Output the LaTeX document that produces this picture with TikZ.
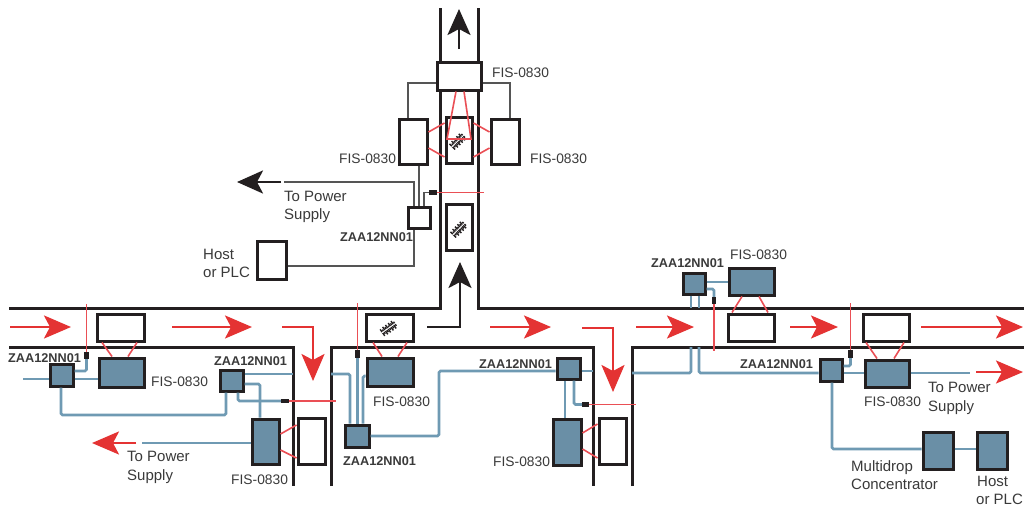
\documentclass[tikz,border=0pt]{standalone}
\usepackage{fontspec}
\setmainfont{Liberation Sans}
\usetikzlibrary{arrows.meta}
\definecolor{ink}{HTML}{231F20}
\definecolor{txt}{HTML}{3A3A3A}
\definecolor{blfill}{HTML}{6A8FA6}
\definecolor{blline}{HTML}{6F9AB3}
\definecolor{redA}{HTML}{E43333}
\definecolor{redB}{HTML}{EA4F55}
\definecolor{grayL}{HTML}{555555}
\tikzset{
  wall/.style={draw=ink,line width=3pt,line cap=butt,line join=miter},
  wbox/.style={draw=ink,fill=white,line width=3pt,inner sep=0pt},
  bbox/.style={draw=ink,fill=blfill,line width=3pt,inner sep=0pt},
  sens/.style={fill=ink,draw=none,inner sep=0pt},
  bl/.style={draw=blline,line width=2.7pt,rounded corners=1.5pt},
  gl/.style={draw=grayL,line width=1.4pt},
  rl/.style={draw=redB,line width=1.6pt},
  rbeam/.style={draw=redB,line width=1.6pt},
  rarr/.style={draw=redA,line width=2.5pt,line join=miter,-{Stealth[length=27pt,width=23pt,inset=6pt]}},
  karr/.style={draw=ink,line width=2.8pt,line join=miter,-{Stealth[length=26pt,width=23pt,inset=6pt]}},
  lab/.style={anchor=base west,inner sep=0pt,text=txt,font=\fontsize{13.8}{16}\selectfont},
  wlab/.style={anchor=base west,inner sep=0pt,text=txt,font=\fontsize{15}{18}\selectfont},
  zlab/.style={anchor=base west,inner sep=0pt,text=txt,font=\fontsize{12.7}{15}\selectfont\bfseries},
}
\newcommand{\bx}[6]{\node[#2,minimum width={(#5-#3)*1pt},minimum height={(#6-#4)*1pt}] (#1) at ({(#3+#5)/2},{(#4+#6)/2}) {};}
\newcommand{\lb}[5][lab]{\node[#1] (#2) at (#3,#4+5) {#5};}
\newcommand{\glyph}[3]{\begin{scope}[shift={(#1,#2)},rotate=#3]
  \foreach \p/\h in {-8/4,-6.3/2.5,-4.6/4.5,-2.9/3,-1.2/4.5,0.5/2.5,2.2/4.5,3.9/3,5.6/4.5,7.3/2.5}{
    \fill[ink] (\p-0.7,-\h) rectangle (\p+0.7,\h);}
  \fill[white] (-9,-0.6) rectangle (9,0.3);
\end{scope}}
\newcommand{\rarrow}[4]{\coordinate (#1s) at (#2,#4);\coordinate (#1e) at (#3,#4);\draw[rarr] (#1s) -- (#1e);}
\begin{document}
\begin{tikzpicture}[x=1pt,y=-1pt]
\useasboundingbox (0,0) rectangle (1024,506);
\fill[white] (0,0) rectangle (1024,506);
% roadway walls
\draw[wall] (9,308) -- (440,308) -- (440,8);
\draw[wall] (478,8) -- (478,308) -- (1024,308);
\draw[wall] (9,347) -- (293,347) -- (293,486);
\draw[wall] (331,486) -- (331,347) -- (593,347) -- (593,486);
\draw[wall] (632,486) -- (632,347) -- (1024,347);
% nodes: north branch
\bx{nTop}{wbox}{437}{62}{481}{90}
\bx{nLeft}{wbox}{399}{119}{427}{164}
\bx{nRight}{wbox}{491}{119}{519}{164}
\bx{tagA}{wbox}{446}{117}{472}{163}
\bx{tagB}{wbox}{446}{204}{472}{250}
\bx{zN}{wbox}{408}{207}{430}{228}
\bx{hostN}{wbox}{257}{241}{286}{279}
\bx{sN}{sens}{429}{190}{437}{195}
\glyph{458}{141}{45}
\glyph{459}{229}{45}
% nodes: west
\bx{zW}{bbox}{50}{364}{73}{386}
\bx{fW}{bbox}{99}{358}{144}{387}
\bx{tW}{wbox}{97}{314}{144}{341}
\bx{sW}{sens}{84}{352}{89}{359}
\bx{zX}{bbox}{220}{370}{243}{391}
\bx{fX}{bbox}{252}{419}{279}{464}
\bx{tX}{wbox}{298}{418}{325}{464}
\bx{sX}{sens}{281}{399}{289}{403}
% nodes: centre
\bx{tC}{wbox}{366}{314}{413}{341}
\glyph{389}{328}{35}
\bx{fC}{bbox}{367}{358}{413}{386}
\bx{sC}{sens}{355}{350}{360}{358}
\bx{zC}{bbox}{345}{425}{369}{447}
\bx{zD}{bbox}{557}{358}{580}{379}
\bx{fD}{bbox}{553}{419}{581}{465}
\bx{tD}{wbox}{599}{418}{626}{464}
\bx{sD}{sens}{582}{402}{589}{407}
% nodes: east
\bx{zE}{bbox}{683}{273}{705}{294}
\bx{fE}{bbox}{729}{268}{774}{295}
\bx{tE}{wbox}{728}{314}{774}{341}
\bx{sE}{sens}{712}{297}{716}{304}
\bx{zF}{bbox}{820}{359}{842}{381}
\bx{fF}{bbox}{865}{360}{909}{387}
\bx{tF}{wbox}{863}{314}{909}{341}
\bx{sF}{sens}{848}{350}{853}{358}
\bx{mux}{bbox}{923}{432}{953}{469}
\bx{hostE}{bbox}{977}{432}{1007}{469}
% free ends
\coordinate (wIn) at (23,379);
\coordinate (wPwr) at (142,443);
\coordinate (ePwr) at (970,373);
\coordinate (nPwr) at (284,182);
\coordinate (bN) at (484,192.5);
\coordinate (bW) at (86.5,304);
\coordinate (bX) at (336,401);
\coordinate (bC) at (357.5,303);
\coordinate (bD) at (636,404.5);
\coordinate (bE) at (714,351);
\coordinate (bF) at (850.5,303);
% grey wiring, north
\draw[gl] (nTop.west |- 0,83) -| (nLeft.north -| 408,0);
\draw[gl] (nTop.east |- 0,83) -| (nRight.north -| 510,0);
\draw[gl] (nLeft.south -| 419,0) -- (zN.north -| 419,0);
\draw[gl] (nPwr) -| (zN.north -| 414,0);
\draw[gl] (hostN.east |- 0,266) -| (zN.south -| 414,0);
\draw[gl] (zN.north -| 424,0) |- (sN.west);
% blue wiring, west
\draw[bl] (wIn) -- (zW.west |- wIn);
\draw[bl] (zW.east |- 0,379) -- (fW.west |- 0,379);
\draw[bl] (sW.south) |- (zW.east |- 0,371);
\draw[bl] (zW.south -| 61,0) |- (226,415) -- (zX.south -| 226,0);
\draw[bl] (zX.east |- 0,374) -- (293,374);
\draw[bl] (zX.east |- 0,384) -| (fX.north -| 260,0);
\draw[bl] (zX.south -| 238,0) |- (sX.west);
\draw[bl] (wPwr) -- (fX.west |- wPwr);
% blue wiring, centre
\draw[bl] (331,374) -| (zC.north -| 350,0);
\draw[bl] (sC.south) -- (zC.north -| sC.south);
\draw[bl] (zC.north -| 363,0) |- (fC.west |- 0,376);
\draw[bl] (zC.east |- 0,436) -| (439,371) -- (zD.west |- 0,371);
\draw[bl] (zD.east |- 0,371) -- (593,371);
\draw[bl] (zD.south -| 565,0) -- (fD.north -| 565,0);
\draw[bl] (zD.south -| 574,0) |- (sD.west);
% blue wiring, east
\draw[bl] (632,373) -| (691,347);
\draw[bl] (zE.south -| 691,0) -- (691,308);
\draw[bl] (zE.south -| 699,0) -- (699,308);
\draw[bl] (699,347) |- (zF.west |- 0,373);
\draw[bl] (zE.east |- 0,282) -- (fE.west |- 0,282);
\draw[bl] (zE.east |- 0,289) -| (sE.north);
\draw[bl] (sF.south) |- (zF.east |- 0,366);
\draw[bl] (zF.east |- 0,373) -- (fF.west |- 0,373);
\draw[bl] (fF.east |- ePwr) -- (ePwr);
\draw[bl] (zF.south -| 832,0) |- (mux.west |- 0,449);
\draw[bl] (mux.east |- 0,449) -- (hostE.west |- 0,449);
% red reader beams
\draw[rl,line join=miter] (nTop.south -| 456,0) -- (447,139) -- (471,139) -- (nTop.south -| 464,0);
\draw[rl] (nLeft.east |- 0,132) -- (tagA.west |- 0,123);
\draw[rl] (nLeft.east |- 0,148) -- (tagA.west |- 0,157);
\draw[rl] (nRight.west |- 0,132) -- (tagA.east |- 0,123);
\draw[rl] (nRight.west |- 0,148) -- (tagA.east |- 0,157);
\draw[rl] (tW.south -| 102,0) -- (fW.north -| 112,0);
\draw[rl] (tW.south -| 137,0) -- (fW.north -| 128,0);
\draw[rl] (fX.east |- 0,434) -- (tX.west |- 0,425);
\draw[rl] (fX.east |- 0,450) -- (tX.west |- 0,458);
\draw[rl] (tC.south -| 373,0) -- (fC.north -| 382,0);
\draw[rl] (tC.south -| 407,0) -- (fC.north -| 398,0);
\draw[rl] (fD.east |- 0,433) -- (tD.west |- 0,424);
\draw[rl] (fD.east |- 0,449) -- (tD.west |- 0,458);
\draw[rl] (fE.south -| 742,0) -- (tE.north -| 732,0);
\draw[rl] (fE.south -| 759,0) -- (tE.north -| 768,0);
\draw[rl] (tF.south -| 866,0) -- (fF.north -| 877,0);
\draw[rl] (tF.south -| 904,0) -- (fF.north -| 894,0);
% red sensor beams
\draw[rbeam] (sN.east) -- (bN);
\draw[rbeam] (sW.north) -- (bW);
\draw[rbeam] (sX.east) -- (bX);
\draw[rbeam] (sC.north) -- (bC);
\draw[rbeam] (sD.east) -- (bD);
\draw[rbeam] (sE.south) -- (bE);
\draw[rbeam] (sF.north) -- (bF);
% red traffic arrows
\rarrow{a1}{10}{71}{327}
\rarrow{a2}{172}{252}{327}
\rarrow{a3}{490}{551}{327}
\rarrow{a4}{636}{694}{327}
\rarrow{a5}{790}{838}{327}
\rarrow{a6}{921}{1023}{327}
\rarrow{a7}{976}{1023}{372}
\rarrow{a8}{136}{92}{443}
\coordinate (b1s) at (282,327);\coordinate (b1e) at (313,381);
\draw[rarr] (b1s) -| (b1e);
\coordinate (b2s) at (582,328);\coordinate (b2e) at (613,392);
\draw[rarr] (b2s) -| (b2e);
% black arrows
\coordinate (k1s) at (459,49);\coordinate (k1e) at (459,9);
\draw[karr] (k1s) -- (k1e);
\coordinate (k2s) at (427,327);\coordinate (k2e) at (460,262);
\draw[karr] (k2s) -| (k2e);
\coordinate (k3s) at (281,182);\coordinate (k3e) at (237,182);
\draw[karr] (k3s) -- (k3e);
% labels
\lb{l1}{492}{72}{FIS-0830}
\lb{l2}{339}{158}{FIS-0830}
\lb{l3}{530}{158}{FIS-0830}
\lb[wlab]{l4}{284}{196}{To Power}
\lb[wlab]{l5}{284}{214}{Supply}
\lb[wlab]{l6}{203}{254}{Host}
\lb[wlab]{l7}{203}{272}{or PLC}
\lb[zlab]{l8}{340}{236}{ZAA12NN01}
\lb[zlab]{l9}{8}{357}{ZAA12NN01}
\lb{l10}{151}{381}{FIS-0830}
\lb[zlab]{l11}{214}{360}{ZAA12NN01}
\lb[wlab]{l12}{127}{456}{To Power}
\lb[wlab]{l13}{127}{475}{Supply}
\lb{l14}{231}{479}{FIS-0830}
\lb{l15}{373}{401}{FIS-0830}
\lb[zlab]{l16}{343}{460}{ZAA12NN01}
\lb[zlab]{l17}{479}{363}{ZAA12NN01}
\lb{l18}{493}{461}{FIS-0830}
\lb[zlab]{l19}{651}{262}{ZAA12NN01}
\lb{l20}{730}{254}{FIS-0830}
\lb[zlab]{l21}{740}{363}{ZAA12NN01}
\lb{l22}{864}{401}{FIS-0830}
\lb[wlab]{l23}{928}{387}{To Power}
\lb[wlab]{l24}{928}{406}{Supply}
\lb[wlab]{l25}{851}{466}{Multidrop}
\lb[wlab]{l26}{851}{484}{Concentrator}
\lb[wlab]{l27}{977}{481}{Host}
\lb[wlab]{l28}{976}{499.5}{or PLC}
\end{tikzpicture}
\end{document}
